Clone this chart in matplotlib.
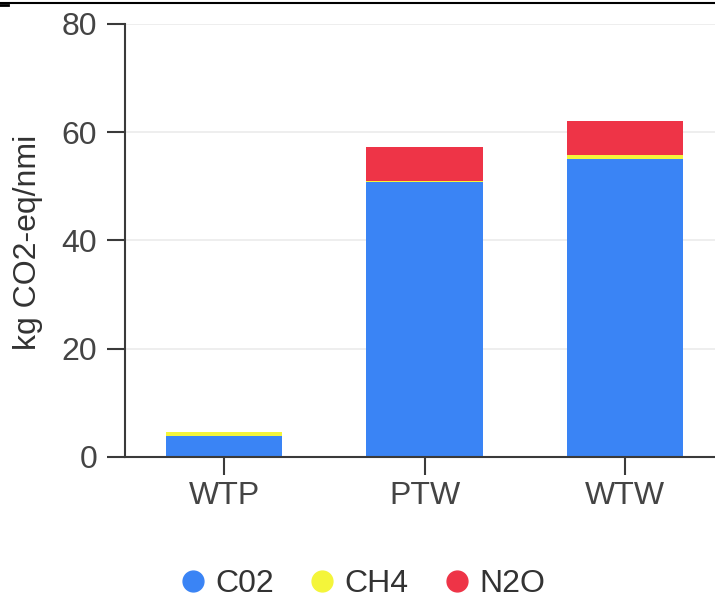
import matplotlib
matplotlib.use("Agg")
import matplotlib.pyplot as plt
from matplotlib.lines import Line2D
import numpy as np

plt.rcParams['font.family'] = ['Liberation Sans', 'DejaVu Sans']

categories = ["WTP", "PTW", "WTW"]
co2 = [3.9, 50.9, 55.1]
ch4 = [0.7, 0.05, 0.7]
n2o = [0.0, 6.35, 6.3]
series_names = ["C02", "CH4", "N2O"]
colors = ["#3a84f5", "#f4f53a", "#ee3447"]

W, H = 715, 599
fig = plt.figure(figsize=(W/100, H/100), dpi=100)
ax = fig.add_axes([125/W, 1-457/H, (W-125)/W, (457-24)/H])

x = np.arange(len(categories))
w = 0.58
bottom = np.zeros(len(categories))
for vals, col in zip([co2, ch4, n2o], colors):
    ax.bar(x, vals, w, bottom=bottom, color=col, zorder=3)
    bottom += np.array(vals)

ax.set_ylim(0, 80)
ax.set_xlim(-0.495, 2.45)
ax.set_yticks([0, 20, 40, 60, 80])
ax.set_xticks(x)
ax.set_xticklabels(categories)
ax.grid(axis='y', color='#ebebeb', linewidth=1.2, zorder=0)
for s in ['top', 'right']:
    ax.spines[s].set_visible(False)
for s in ['left', 'bottom']:
    ax.spines[s].set_color('#3a3a3a')
    ax.spines[s].set_linewidth(1.5)
    ax.spines[s].set_zorder(4)
ax.tick_params(axis='both', labelsize=23, colors='#3a3a3a', length=13, width=1.5, labelcolor='#444444')
ax.tick_params(axis='y', pad=7)
ax.tick_params(axis='x', pad=4)
fig.text(28/W, 1-242/H, "kg CO2-eq/nmi", rotation=90, ha='center', va='center', fontsize=23, color='#333333')

handles = [Line2D([], [], marker='o', linestyle='none', markersize=15, color=c) for c in colors]
fig.legend(handles, series_names, loc='center', bbox_to_anchor=(361/W, 1-584/H), ncol=3,
           frameon=False, fontsize=23, handletextpad=0.2, columnspacing=1.0, labelcolor='#333333',
           handlelength=1.0)

fig.add_artist(Line2D([0, 1], [1-3/H, 1-3/H], color='black', linewidth=1.5, transform=fig.transFigure))
fig.add_artist(Line2D([0, 8/W], [1-5/H, 1-5/H], color='black', linewidth=2, transform=fig.transFigure))

fig.savefig("out.png", dpi=100, facecolor='white')
